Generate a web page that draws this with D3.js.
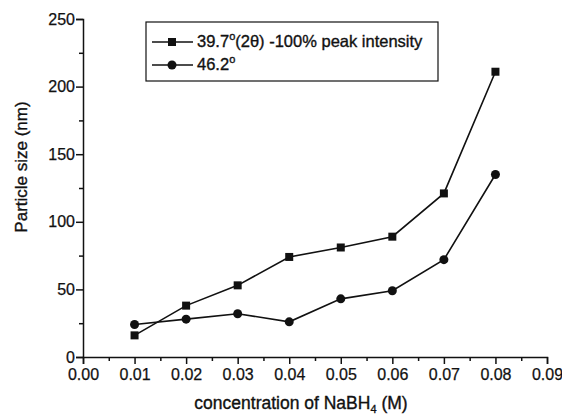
<!DOCTYPE html>
<html>
<head>
<meta charset="utf-8">
<script src="https://cdn.jsdelivr.net/npm/d3@7"></script>
<style>
  body { margin: 0; background: #fff; }
  svg text { font-family: "Liberation Sans", Arial, sans-serif; fill: #111; stroke: #111; stroke-width: 0.35px; }
  .axis path, .axis line { stroke: #111; stroke-width: 1.5; }
</style>
</head>
<body>
<div id="chart"></div>
<script>
const concentrations = [0.01, 0.02, 0.03, 0.04, 0.05, 0.06, 0.07, 0.08];
const peak397 = [16, 38, 53, 74, 81, 89, 121, 211];
const peak462 = [24, 28, 32, 26, 43, 49, 72, 135];
const xTicks = [0, 0.01, 0.02, 0.03, 0.04, 0.05, 0.06, 0.07, 0.08, 0.09];
const yTicks = [0, 50, 100, 150, 200, 250];

const W = 562, H = 414;
const margin = { top: 19, right: 15, bottom: 57, left: 83 };

const svg = d3.select("#chart").append("svg")
  .attr("width", W).attr("height", H);

const x = d3.scaleLinear().domain([0, 0.09]).range([margin.left, W - margin.right]);
const y = d3.scaleLinear().domain([0, 250]).range([H - margin.bottom, margin.top]);

// minor ticks
svg.append("g")
  .attr("class", "axis")
  .attr("transform", "translate(0," + y(0) + ")")
  .call(d3.axisBottom(x).tickValues(d3.range(0.005, 0.09, 0.01)).tickSize(4).tickFormat(""))
  .call(g => g.select(".domain").remove());
svg.append("g")
  .attr("class", "axis")
  .attr("transform", "translate(" + x(0) + ",0)")
  .call(d3.axisLeft(y).tickValues(d3.range(25, 250, 50)).tickSize(4).tickFormat(""))
  .call(g => g.select(".domain").remove());

// major axes
const xAxis = svg.append("g")
  .attr("class", "axis")
  .attr("transform", "translate(0," + y(0) + ")")
  .call(d3.axisBottom(x).tickValues(xTicks).tickSizeOuter(0).tickSize(7).tickPadding(5)
    .tickFormat(d3.format(".2f")));
xAxis.selectAll("text").style("font-size", "16px").style("stroke", "#111").style("stroke-width", "0.25px").style("fill", "#111");

const yAxis = svg.append("g")
  .attr("class", "axis")
  .attr("transform", "translate(" + x(0) + ",0)")
  .call(d3.axisLeft(y).tickValues(yTicks).tickSizeOuter(0).tickSize(7).tickPadding(1));
yAxis.selectAll("text").style("font-size", "16px").style("stroke", "#111").style("stroke-width", "0.25px").style("fill", "#111");

// axis titles
const xt = svg.append("text")
  .attr("x", 301).attr("y", 409)
  .attr("text-anchor", "middle")
  .style("font-size", "17.5px");
xt.append("tspan").text("concentration of NaBH");
xt.append("tspan").text("4").attr("dy", 4).style("font-size", "11px");
xt.append("tspan").text(" (M)").attr("dy", -4);

svg.append("text")
  .attr("transform", "translate(27,167) rotate(-90)")
  .attr("text-anchor", "middle")
  .style("font-size", "17px")
  .text("Particle size (nm)");

const line = d3.line().x((d, i) => x(concentrations[i])).y(d => y(d));

function drawSeries(values, shape) {
  svg.append("path")
    .datum(values)
    .attr("d", line)
    .attr("fill", "none")
    .attr("stroke", "#111")
    .attr("stroke-width", 1.6);
  const g = svg.append("g");
  if (shape === "square") {
    g.selectAll("rect").data(values).enter().append("rect")
      .attr("x", (d, i) => x(concentrations[i]) - 4)
      .attr("y", d => y(d) - 4)
      .attr("width", 8).attr("height", 8)
      .attr("fill", "#111");
  } else {
    g.selectAll("circle").data(values).enter().append("circle")
      .attr("cx", (d, i) => x(concentrations[i]))
      .attr("cy", d => y(d))
      .attr("r", 4.5)
      .attr("fill", "#111");
  }
}
drawSeries(peak397, "square");
drawSeries(peak462, "circle");

// legend
const legend = svg.append("g");
legend.append("rect")
  .attr("x", 146).attr("y", 22).attr("width", 292).attr("height", 59)
  .attr("fill", "#fff").attr("stroke", "#111").attr("stroke-width", 1.2);
const items = [
  { shape: "square", label: ["39.7", "(2θ) -100% peak intensity"], y: 42 },
  { shape: "circle", label: ["46.2", ""], y: 65 }
];
items.forEach(it => {
  legend.append("line")
    .attr("x1", 152).attr("x2", 193).attr("y1", it.y).attr("y2", it.y)
    .attr("stroke", "#111").attr("stroke-width", 1.6);
  if (it.shape === "square") {
    legend.append("rect").attr("x", 168).attr("y", it.y - 4).attr("width", 8).attr("height", 8).attr("fill", "#111");
  } else {
    legend.append("circle").attr("cx", 172).attr("cy", it.y).attr("r", 4.5).attr("fill", "#111");
  }
  const t = legend.append("text").attr("x", 197).attr("y", it.y + 5).style("font-size", "16.5px");
  t.append("tspan").text(it.label[0]);
  t.append("tspan").text("o").attr("dy", -7).style("font-size", "11px");
  t.append("tspan").text(it.label[1]).attr("dy", 7);
});
</script>
</body>
</html>
